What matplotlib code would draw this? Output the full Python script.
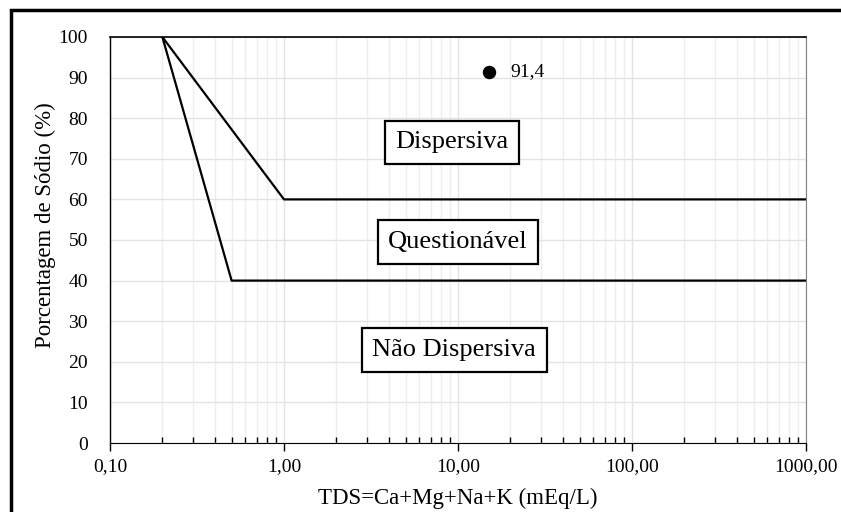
import matplotlib.pyplot as plt
from matplotlib.patches import Rectangle
from matplotlib.ticker import LogLocator, NullFormatter

plt.rcParams['font.family'] = ['Liberation Serif', 'DejaVu Serif']

# limites das classes de dispersividade
lim_sup_x = [0.2, 1.0, 1000.0]
lim_sup_y = [100, 60, 60]
lim_inf_x = [0.2, 0.5, 1000.0]
lim_inf_y = [100, 40, 40]

# amostra
amostra_tds = [15.1]
amostra_na = [91.4]

classes = ["Dispersiva", "Questionável", "Não Dispersiva"]
classes_x = [9.25, 10.0, 9.5]
classes_y = [74.1, 49.5, 22.9]

xticks = [0.1, 1, 10, 100, 1000]
xlabels = ["0,10", "1,00", "10,00", "100,00", "1000,00"]

fig = plt.figure(figsize=(8.41, 5.12), dpi=100)
ax = fig.add_axes([110/841, 1-443/512, 696/841, 406/512])

ax.set_xscale('log')
ax.set_xlim(0.1, 1000)
ax.set_ylim(0, 100)

ax.plot(lim_sup_x, lim_sup_y, color='black', lw=1.6)
ax.plot(lim_inf_x, lim_inf_y, color='black', lw=1.6)
ax.scatter(amostra_tds, amostra_na, s=75, color='black', zorder=5)
for x, y in zip(amostra_tds, amostra_na):
    ax.annotate(f"{y:.1f}".replace('.', ','), (x, y), xytext=(15, 0),
                textcoords='offset points', va='center', fontsize=14)

for txt, x, y in zip(classes, classes_x, classes_y):
    ax.text(x, y, txt, ha='center', va='center', fontsize=19,
            bbox=dict(boxstyle='square,pad=0.4', fc='white', ec='black', lw=1.6))

ax.set_xticks(xticks)
ax.set_xticklabels(xlabels)
ax.xaxis.set_minor_locator(LogLocator(base=10, subs=range(2, 10)))
ax.xaxis.set_minor_formatter(NullFormatter())
ax.set_yticks(range(0, 101, 10))

ax.grid(which='major', color='#e3e3e3', lw=1)
ax.grid(which='minor', axis='x', color='#eeeeee', lw=1)
ax.set_axisbelow(True)

ax.tick_params(axis='x', which='major', direction='out', length=6, width=1, labelsize=14, pad=5)
ax.tick_params(axis='x', which='minor', direction='in', length=4, width=1)
ax.tick_params(axis='y', length=0, labelsize=14, pad=16)

ax.spines['right'].set_color('#7f7f7f')
ax.spines['top'].set_linewidth(1.2)
ax.spines['left'].set_linewidth(1)

ax.set_xlabel("TDS=Ca+Mg+Na+K (mEq/L)", fontsize=16.5, labelpad=9)
ax.set_ylabel("Porcentagem de Sódio (%)", fontsize=16.5)
ax.yaxis.set_label_coords(-0.078, 0.537)

# moldura da figura
fig.patches.append(Rectangle((11/841, -0.05), 1.0, 1-10/512+0.05, transform=fig.transFigure,
                             fill=False, ec='black', lw=2.5))

fig.savefig('out.png', dpi=100)
